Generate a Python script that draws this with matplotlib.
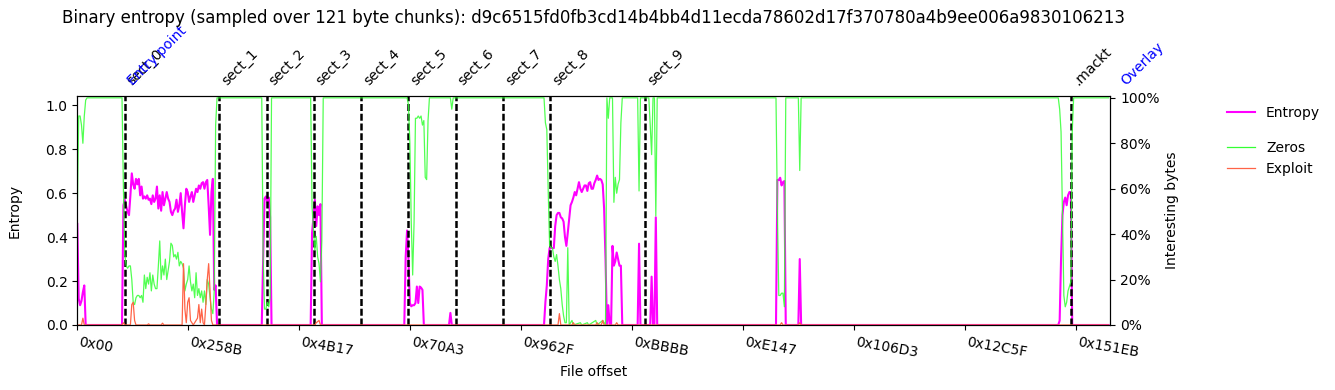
import matplotlib
matplotlib.use("Agg")
import matplotlib.pyplot as plt
import matplotlib.transforms as mtransforms
from matplotlib.lines import Line2D
from matplotlib.ticker import PercentFormatter
import numpy as np

CHUNK = 121
SHA = "d9c6515fd0fb3cd14b4bb4d11ecda78602d17f370780a4b9ee006a9830106213"

# (chunk index, value) pairs
entropy_pts = [
    (0, .46), (1, .12), (2, .09), (3, .11), (4, .15), (5, .18), (6, 0),
    (32, 0), (33, .545), (34, .57), (35, .54), (36, .515), (37, .50), (38, .59), (39, .69),
    (40, .64), (41, .62), (42, .665), (43, .64), (44, .665), (45, .59), (46, .63), (47, .575),
    (48, .585), (49, .575), (50, .59), (51, .57), (52, .575), (53, .55), (54, .59), (55, .56),
    (56, .575), (57, .63), (58, .53), (59, .59), (60, .52), (61, .605), (62, .545), (63, .575),
    (64, .605), (65, .575), (66, .56), (67, .515), (68, .50), (69, .52), (70, .53), (71, .57),
    (72, .515), (73, .545), (74, .60), (75, .515), (76, .44), (77, .545), (78, .62), (79, .605),
    (80, .56), (81, .585), (82, .605), (83, .56), (84, .59), (85, .62), (86, .605), (87, .635),
    (88, .62), (89, .645), (90, .65), (91, .62), (92, .65), (93, .66), (94, .545), (95, .41),
    (96, .605), (97, .665), (98, .16), (99, .18), (100, 0),
    (132, 0), (133, .30), (134, .575), (135, .585), (136, .56), (137, .58), (138, .49), (139, 0),
    (167, 0), (168, .42), (169, .49), (170, .57), (171, .45), (172, .54), (173, .50), (174, .55), (175, 0),
    (234, 0), (235, .31), (236, .43), (237, .30), (238, .10), (239, .085), (240, .09), (241, .09),
    (242, .10), (243, .175), (244, .10), (245, .175), (246, .17), (247, .16), (248, 0),
    (266, 0), (267, .055), (268, 0),
    (334, 0), (335, .105), (336, .18), (337, .30), (338, .35), (339, .35), (340, .35), (341, .35),
    (342, .45), (343, .50), (344, .51), (345, .51), (346, .49), (347, .485), (348, .47), (349, .40),
    (350, .36), (351, .42), (352, .485), (353, .545), (354, .56), (355, .58), (356, .605), (357, .59),
    (358, .62), (359, .65), (360, .62), (361, .605), (362, .62), (363, .635), (364, .635), (365, .61),
    (366, .645), (367, .65), (368, .62), (369, .62), (370, .645), (371, .66), (372, .68), (373, .66),
    (374, .665), (375, .66), (376, .64), (377, .53), (378, .30), (379, 0), (380, .09), (381, 0),
    (382, 0), (383, .36), (384, .27), (385, .29), (386, .33), (387, .30), (388, .27), (389, .27), (390, 0),
    (401, 0), (402, .37), (403, 0), (410, 0), (411, .22), (412, 0), (413, 0), (414, .49), (415, 0),
    (500, 0), (501, .66), (502, .66), (503, .67), (504, .635), (505, .65), (506, .655), (507, 0),
    (516, 0), (517, .30), (518, 0),
    (702, 0), (703, .02), (704, .30), (705, .50), (706, .56), (707, .58), (708, .545), (709, .59),
    (710, .605), (711, .605), (712, 0), (738, 0),
]

zeros_pts = [
    (0, .49), (1, .92), (2, .92), (3, .88), (4, .80), (5, .92), (6, .99), (7, 1),
    (32, 1), (33, .6), (34, .31), (35, .26), (36, .25), (37, .26), (38, .26), (39, .20), (40, .10),
    (41, .09), (42, .12), (43, .13), (44, .13), (45, .12), (46, .13), (47, .10), (48, .22), (49, .16),
    (50, .21), (51, .18), (52, .23), (53, .15), (54, .22), (55, .18), (56, .16), (57, .16), (58, .26),
    (59, .37), (60, .20), (61, .26), (62, .22), (63, .29), (64, .20), (65, .24), (66, .28), (67, .36),
    (68, .35), (69, .30), (70, .31), (71, .29), (72, .32), (73, .26), (74, .28), (75, .27), (76, .25),
    (77, .15), (78, .18), (79, .20), (80, .26), (81, .19), (82, .15), (83, .18), (84, .12), (85, .23),
    (86, .13), (87, .16), (88, .12), (89, .15), (90, .10), (91, .15), (92, .09), (93, .20), (94, .18),
    (95, .12), (96, .07), (97, .05), (98, .15), (99, .88), (100, 1),
    (132, 1), (133, .30), (134, .07), (135, .07), (136, .10), (137, .08), (138, .12), (139, 1),
    (167, 1), (168, .52), (169, .42), (170, .33), (171, .39), (172, .30), (173, .27), (174, .19),
    (175, .37), (176, 1),
    (236, 1), (237, .97), (238, .80), (239, .45), (240, .22), (241, .45), (242, .91), (243, .91),
    (244, .92), (245, .91), (246, .92), (247, .88), (248, .90), (249, .65), (250, .64), (251, .90), (252, 1),
    (267, 1), (268, .95), (269, 1),
    (334, 1), (335, .89), (336, .86), (337, .59), (338, .35), (339, .34), (340, .34), (341, .30),
    (342, .28), (343, .31), (344, .26), (345, .20), (346, .16), (347, .09), (348, .04), (349, .01),
    (350, .01), (351, .34), (352, 0), (354, .02), (355, 0), (360, .01), (361, 0), (365, .01), (366, 0),
    (371, .02), (372, 0), (376, .02), (377, .01), (378, 0),
    (379, 1), (380, .91), (381, 1), (383, 1), (384, .54), (385, .65), (386, .58), (387, .62),
    (388, .64), (389, .89), (390, 1),
    (401, 1), (402, .59), (403, 1), (409, 1), (410, .88), (411, .75), (412, 1), (413, 1), (414, .48), (415, 1),
    (500, 1), (501, .5), (502, .13), (503, .13), (504, .14), (505, .14), (506, .08), (507, 1),
    (516, 1), (517, .68), (518, 1),
    (702, 1), (703, .95), (704, .85), (705, .5), (706, .13), (707, .08), (708, .10), (709, .15),
    (710, .17), (711, .19), (712, .85), (713, 1), (738, 1),
]

exploit_pts = [
    (0, 0), (3, 0), (4, .03), (5, 0), (32, 0), (33, .01), (34, 0), (38, 0), (39, .09), (40, .10),
    (41, .02), (42, 0), (50, 0), (51, .005), (52, 0), (60, 0), (61, .008), (62, 0),
    (75, 0), (76, .27), (77, .07), (78, .01), (79, .10), (80, .12), (81, .02), (82, .01), (83, 0),
    (86, .03), (87, .09), (88, .01), (89, .07), (90, .01), (91, 0), (92, .09), (93, .20), (94, .27),
    (95, .15), (96, .02), (97, 0), (170, 0), (171, .01), (173, .02), (174, 0),
    (344, 0), (345, .05), (346, 0), (354, 0), (355, .01), (356, 0), (371, 0), (372, .01), (373, 0),
    (375, 0), (376, .02), (377, 0), (385, 0), (386, .01), (387, 0),
    (503, 0), (504, .01), (505, 0), (516, 0), (517, .01), (518, 0), (738, 0),
]

section_names = ["sect_0", "sect_1", "sect_2", "sect_3", "sect_4", "sect_5",
                 "sect_6", "sect_7", "sect_8", "sect_9", ".mackt"]
section_offsets = [0x1000, 0x3000, 0x4000, 0x5000, 0x6000, 0x7000,
                   0x8000, 0x9000, 0xA000, 0xC000, 0x15000]
entry_point = 0x1040
overlay = 0x16000

tick_offsets = [0, 9611, 19223, 28835, 38447, 48059, 57671, 67283, 76895, 86507]


def unpack(pts):
    c, v = zip(*pts)
    return np.array(c) * CHUNK, np.array(v)


fig = plt.figure(figsize=(13.35, 3.9), dpi=100)
ax = fig.add_axes([0.0579, 0.1667, 0.8317 - 0.0579, 0.7538 - 0.1667])
ax2 = ax.twinx()

ex, ey = unpack(entropy_pts)
zx, zy = unpack(zeros_pts)
xx, xy = unpack(exploit_pts)

ax.plot(ex, ey, color="#ff00ff", lw=1.5)
for off in section_offsets:
    ax.axvline(off, color="black", lw=1.8, linestyle=(0, (2.8, 1.1)))
ax2.plot(zx, zy, color="#33ff33", lw=0.9, alpha=0.85)
ax2.plot(xx, xy, color="tomato", lw=0.9)

ax.set_xlim(0, 89450)
ax.set_ylim(0, 1.042)
ax2.set_ylim(0, 1.008)
ax.set_yticks([0, .2, .4, .6, .8, 1.0])
ax2.set_yticks([0, .2, .4, .6, .8, 1.0])
ax2.yaxis.set_major_formatter(PercentFormatter(1.0, decimals=0))

ax.set_xticks(tick_offsets)
ax.set_xticklabels([f"0x{t:02X}" for t in tick_offsets], rotation=-10, ha="left")

ax.set_xlabel("File offset")
ax.set_ylabel("Entropy", labelpad=17)
ax2.set_ylabel("Interesting bytes")

trans = mtransforms.blended_transform_factory(ax.transData, ax.transAxes)
for name, off in zip(section_names, section_offsets):
    ax.text(off, 1.035, name, transform=trans, rotation=45, ha="left", va="bottom",
            fontsize=10, clip_on=False)
ax.text(entry_point, 1.035, "Entry point", transform=trans, rotation=45, ha="left",
        va="bottom", color="blue", clip_on=False)
ax.text(overlay, 1.035, "Overlay", transform=trans, rotation=45, ha="left",
        va="bottom", color="blue", clip_on=False)

fig.text(0.4446, 0.954, f"Binary entropy (sampled over {CHUNK} byte chunks): {SHA}",
         ha="center", va="center", fontsize=12)

fig.legend(handles=[Line2D([], [], color="#ff00ff", lw=1.5)], labels=["Entropy"],
           loc="upper left", bbox_to_anchor=(0.915, 0.7426), frameon=False, borderaxespad=0)
fig.legend(handles=[Line2D([], [], color="#33ff33", lw=0.9),
                    Line2D([], [], color="tomato", lw=0.9)],
           labels=["Zeros", "Exploit"],
           loc="upper left", bbox_to_anchor=(0.915, 0.6528), frameon=False, borderaxespad=0)

fig.savefig("out.png", dpi=100)
